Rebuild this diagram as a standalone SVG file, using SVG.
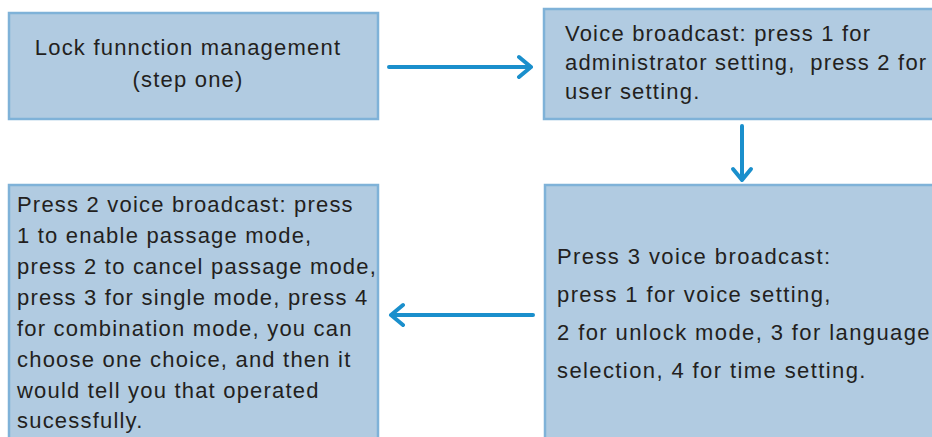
<svg xmlns="http://www.w3.org/2000/svg" width="932" height="437" viewBox="0 0 932 437">
<style>
.box{fill:#b1cbe1;stroke:#7fb2d8;stroke-width:2.5}
.t{font-family:"Liberation Sans",Arial,sans-serif;font-size:22px;letter-spacing:1.2px;fill:#231f20}
.w{letter-spacing:1.4px}
.c{fill:none;stroke:#1a8fcc;stroke-width:4;stroke-linecap:round;stroke-linejoin:round}
</style>
<rect width="932" height="437" fill="#fff"/>
<g id="node-step-one">
<rect class="box" x="9" y="13" width="369" height="106"/>
<text class="t" x="188" y="55" text-anchor="middle">Lock funnction management</text>
<text class="t" x="188" y="87" text-anchor="middle">(step one)</text>
</g>
<g id="node-voice">
<rect class="box" x="544" y="9" width="392" height="110"/>
<text class="t" x="565" y="41">Voice broadcast: press 1 for</text>
<text class="t" x="565" y="70" xml:space="preserve">administrator setting,  press 2 for</text>
<text class="t" x="565" y="99">user setting.</text>
</g>
<g id="node-press3">
<rect class="box" x="545" y="185" width="392" height="260"/>
<text class="t w" x="557" y="264">Press 3 voice broadcast:</text>
<text class="t w" x="557" y="302">press 1 for voice setting,</text>
<text class="t w" x="557" y="340">2 for unlock mode, 3 for language</text>
<text class="t w" x="557" y="378">selection, 4 for time setting.</text>
</g>
<g id="node-press2">
<rect class="box" x="9" y="185" width="369" height="260"/>
<text class="t" x="17" y="212">Press 2 voice broadcast: press</text>
<text class="t" x="17" y="243">1 to enable passage mode,</text>
<text class="t" x="17" y="274">press 2 to cancel passage mode,</text>
<text class="t" x="17" y="305">press 3 for single mode, press 4</text>
<text class="t" x="17" y="336">for combination mode, you can</text>
<text class="t" x="17" y="367">choose one choice, and then it</text>
<text class="t" x="17" y="398">would tell you that operated</text>
<text class="t" x="17" y="428">sucessfully.</text>
</g>
<g id="connectors">
<path class="c" d="M389 67 H531 M519 57 L531 67 L519 77"/>
<path class="c" d="M742 126 V180 M733 169 L742 180 L751 169"/>
<path class="c" d="M533 315 H391 M403 305 L391 315 L403 325"/>
</g>
</svg>
